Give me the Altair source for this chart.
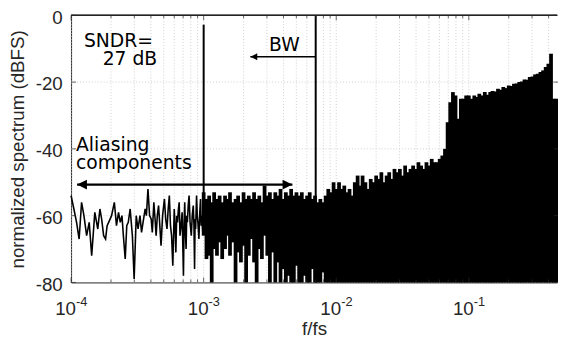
import altair as alt
import pandas as pd

# ------------------------------------------------------------------ data
# sparse low-frequency bins of the output spectrum (f in units of 1e-4 * fs)
low_f_e4 = [1.00, 1.05, 1.10, 1.15, 1.20, 1.25, 1.31, 1.37, 1.43, 1.51,
            1.59, 1.65, 1.70, 1.76, 1.82, 1.87, 1.92, 2.02, 2.12, 2.20,
            2.28, 2.35, 2.42, 2.48, 2.56, 2.63, 2.70, 2.79, 2.90, 2.99,
            3.10, 3.20, 3.31, 3.40, 3.49, 3.62, 3.70, 3.80, 3.91, 4.02,
            4.10, 4.21, 4.30, 4.38, 4.47, 4.57, 4.67, 4.77, 4.90, 5.06,
            5.17, 5.29, 5.40, 5.51, 5.62, 5.73, 5.85, 6.00, 6.08, 6.17,
            6.26, 6.35, 6.45, 6.54, 6.63, 6.72, 6.88, 7.04, 7.12, 7.20,
            7.30, 7.37, 7.45, 7.54, 7.65, 7.76, 7.90, 8.07, 8.20, 8.35,
            8.45, 8.54, 8.62, 8.70, 8.84, 8.95, 9.05, 9.21, 9.35, 9.47,
            9.58, 9.70, 9.85, 9.93]
low_db = [-54, -58, -62, -67, -56, -60, -66, -62, -72, -59,
          -64, -58, -61, -66, -67, -63, -62, -60, -56, -63,
          -59, -62, -60, -66, -73, -63, -62, -58, -66, -79,
          -60, -64, -60, -65, -62, -58, -60, -52, -60, -61,
          -65, -56, -61, -66, -60, -57, -63, -69, -60, -55,
          -61, -64, -58, -54, -63, -66, -75, -58, -63, -71,
          -60, -62, -58, -56, -66, -64, -59, -78, -62, -56,
          -66, -70, -60, -62, -57, -54, -62, -66, -60, -57,
          -63, -76, -61, -64, -54, -60, -62, -67, -59, -55,
          -63, -60, -65, -58]

# dense part of the spectrum: 50 frequency slots per decade (mantissas)
dense_mant = [1.00, 1.05, 1.10, 1.15, 1.20, 1.26, 1.32, 1.38, 1.45, 1.51,
              1.58, 1.66, 1.74, 1.82, 1.91, 2.00, 2.09, 2.19, 2.29, 2.40,
              2.51, 2.63, 2.75, 2.88, 3.02, 3.16, 3.31, 3.47, 3.63, 3.80,
              3.98, 4.17, 4.37, 4.57, 4.79, 5.01, 5.25, 5.50, 5.75, 6.03,
              6.31, 6.61, 6.92, 7.24, 7.59, 7.94, 8.32, 8.71, 9.12, 9.55]
# decade 1e-3 .. 1e-2: upper and lower edge of the dense trace
dense_top_1e3 = [-53, -55, -54, -56, -53, -55, -54, -56, -54, -55,
                 -53, -56, -55, -54, -56, -53, -55, -54, -55, -53,
                 -55, -54, -56, -51, -54, -53, -55, -53, -54, -52,
                 -55, -53, -54, -52, -54, -53, -54, -53, -55, -54,
                 -53, -55, -54, -56, -55, -56, -54, -52, -53, -50]
dense_bot_1e3 = [-66, -73, -72, -80, -70, -72, -68, -73, -70, -66,
                 -72, -68, -80, -71, -74, -69, -80, -72, -67, -74,
                 -80, -70, -73, -66, -72, -80, -71, -80, -74, -80,
                 -76, -80, -78, -80, -80, -75, -80, -80, -78, -80,
                 -80, -76, -80, -80, -80, -77, -80, -80, -80, -80]
# decade 1e-2 .. 1e-1: upper edge (trace fills down to the floor)
dense_top_1e2 = [-52, -50, -52, -51, -53, -52, -54, -50, -48, -51,
                 -48, -50, -52, -49, -50, -48, -49, -47, -50, -48,
                 -47, -49, -46, -47, -46, -48, -45, -47, -46, -45,
                 -46, -44, -45, -46, -44, -45, -43, -44, -44, -43,
                 -42, -40, -32, -26, -23, -24, -31, -25, -25, -24]
# decade 1e-1 .. 0.46: upper edge
dense_top_1e1 = [-24, -25, -24, -24.5, -23.5, -24, -23, -23.8, -23, -22.7,
                 -22.8, -22, -22.3, -21.5, -21.8, -21, -21.2, -20.5, -20.4, -20,
                 -19.8, -19.2, -19.3, -18.5, -18.3, -17.7, -17.5, -17, -16.5, -15.5,
                 -14.5, -11.5, -25, -25]
floor_db = -80

# input tone and bandwidth marker
tone_f = [1.0e-3]
tone_db = [-2.8]
tone_base_db = [-62]
bw_f = [7.0e-3]

# axes
x_major = [1e-4, 1e-3, 1e-2, 1e-1]
x_exp = ["-4", "-3", "-2", "-1"]
x_minor_mant = [2, 3, 4, 5, 6, 7, 8, 9]
y_major = [0, -20, -40, -60, -80]
y_grid = [-20, -40, -60]

# annotations
ann_text = ["SNDR=", "27 dB", "BW", "Aliasing", "components"]
ann_f = [1.25e-4, 1.73e-4, 3.11e-3, 1.09e-4, 1.09e-4]
ann_db = [-9.5, -15.0, -10.6, -40.6, -45.9]

bw_arrow_f = [7.0e-3, 2.25e-3]        # from, to (tip)
bw_arrow_db = -12.4
alias_arrow_f = [1.11e-4, 4.67e-3]    # left tip, right tip
alias_arrow_db = -50.7

# ------------------------------------------------------------------ frames
X_MIN, X_MAX = 1e-4, 0.4627
W, H = 493, 271
INK = "#262626"
FONT_AX = "Liberation Sans"
FONT_TX = "DejaVu Sans"

low_df = pd.DataFrame({"f": [v * 1e-4 for v in low_f_e4], "db": low_db})

dense_f = ([m * 1e-3 for m in dense_mant] + [m * 1e-2 for m in dense_mant]
           + [m * 1e-1 for m in dense_mant[:len(dense_top_1e1)]])
dense_top = dense_top_1e3 + dense_top_1e2 + dense_top_1e1
dense_bot = dense_bot_1e3 + [floor_db] * (len(dense_top_1e2) + len(dense_top_1e1))
dense_df = pd.DataFrame({"f": dense_f, "db": dense_top, "db2": dense_bot})

tone_df = pd.DataFrame({"f": tone_f, "db": tone_db, "db2": tone_base_db})
bw_df = pd.DataFrame({"f": bw_f})

x_minor = [m * 10.0 ** e for e in (-4, -3, -2) for m in x_minor_mant] + \
          [m * 0.1 for m in x_minor_mant if m * 0.1 < X_MAX]
xmaj_df = pd.DataFrame({"f": x_major, "base": ["10"] * len(x_major), "exp": x_exp})
xmin_df = pd.DataFrame({"f": x_minor})
xgrid_df = pd.DataFrame({"f": x_major + x_minor})
ygrid_df = pd.DataFrame({"db": y_grid})
ymaj_df = pd.DataFrame({"db": y_major})

ann_df = pd.DataFrame({"f": ann_f, "db": ann_db, "t": ann_text})
bw_shaft_df = pd.DataFrame({"f": [bw_arrow_f[0]], "f2": [bw_arrow_f[1]], "db": [bw_arrow_db]})
bw_head_df = pd.DataFrame({"f": [bw_arrow_f[1]], "db": [bw_arrow_db]})
al_shaft_df = pd.DataFrame({"f": [alias_arrow_f[0]], "f2": [alias_arrow_f[1]], "db": [alias_arrow_db]})
al_left_df = pd.DataFrame({"f": [alias_arrow_f[0]], "db": [alias_arrow_db]})
al_right_df = pd.DataFrame({"f": [alias_arrow_f[1]], "db": [alias_arrow_db]})

# ------------------------------------------------------------------ scales / axes
xs = alt.Scale(type="log", domain=[X_MIN, X_MAX], nice=False)
ys = alt.Scale(domain=[-80, 0], nice=False)

x_axis = alt.Axis(title="f/fs", labels=False, ticks=False, tickSize=0, grid=False,
                  domain=True, domainColor=INK, domainWidth=1,
                  titleFont=FONT_AX, titleFontSize=19, titleFontWeight="normal",
                  titleColor=INK, titleBaseline="alphabetic", titleY=53)
y_axis = alt.Axis(title="normalized spectrum (dBFS)", values=y_major,
                  labelExpr="datum.value == 0 ? '0' : '-' + abs(datum.value)",
                  ticks=False, tickSize=0, labelPadding=9, labelOffset=2, grid=False,
                  labelFont=FONT_AX, labelFontSize=19, labelColor=INK,
                  domain=True, domainColor=INK, domainWidth=1,
                  titleFont=FONT_AX, titleFontSize=19, titleFontWeight="normal",
                  titleColor=INK, titleBaseline="alphabetic", titleX=-48, titleY=H / 2)


def X(field="f"):
    return alt.X(f"{field}:Q", scale=xs, axis=x_axis)


def Y(field="db"):
    return alt.Y(f"{field}:Q", scale=ys, axis=y_axis)


GRID = dict(color="#cfcfcf", strokeWidth=1, strokeDash=[1, 2])
LEFT_HEAD = "M0,0L1,-0.5L1,0.5Z"
RIGHT_HEAD = "M0,0L-1,-0.5L-1,0.5Z"

layers = [
    alt.Chart(xgrid_df).mark_rule(**GRID).encode(x=X()),
    alt.Chart(ygrid_df).mark_rule(**GRID).encode(y=Y()),
    alt.Chart(low_df).mark_line(color="black", strokeWidth=1.6).encode(x=X(), y=Y()),
    alt.Chart(dense_df).mark_rule(color="black", strokeWidth=3.8).encode(x=X(), y=Y(), y2="db2:Q"),
    alt.Chart(tone_df).mark_rule(color="black", strokeWidth=2).encode(x=X(), y=Y(), y2="db2:Q"),
    alt.Chart(bw_df).mark_rule(color="black", strokeWidth=2).encode(x=X()),
    # frame top line
    alt.Chart(ymaj_df).mark_rule(color=INK, strokeWidth=1).encode(y=alt.datum(0)),
    # inside ticks
    alt.Chart(xmaj_df).mark_tick(orient="vertical", size=5, thickness=1, color=INK, yOffset=-2.5)
       .encode(x=X(), y=alt.datum(-80)),
    alt.Chart(xmaj_df).mark_tick(orient="vertical", size=5, thickness=1, color=INK, yOffset=2.5)
       .encode(x=X(), y=alt.datum(0)),
    alt.Chart(xmin_df).mark_tick(orient="vertical", size=3, thickness=1, color=INK, yOffset=-1.5)
       .encode(x=X(), y=alt.datum(-80)),
    alt.Chart(xmin_df).mark_tick(orient="vertical", size=3, thickness=1, color=INK, yOffset=1.5)
       .encode(x=X(), y=alt.datum(0)),
    alt.Chart(ymaj_df).mark_tick(orient="horizontal", size=5, thickness=1, color=INK, xOffset=2.5)
       .encode(x=alt.datum(X_MIN), y=Y()),
    alt.Chart(ymaj_df).mark_tick(orient="horizontal", size=5, thickness=1, color=INK, xOffset=-1)
       .encode(x=alt.datum(X_MAX), y=Y()),
    # x tick labels 10^k
    alt.Chart(xmaj_df).mark_text(align="right", baseline="alphabetic", dx=5, dy=33,
                                 font=FONT_AX, fontSize=19, color=INK)
       .encode(x=X(), y=alt.datum(-80), text="base:N"),
    alt.Chart(xmaj_df).mark_text(align="left", baseline="alphabetic", dx=5, dy=24,
                                 font=FONT_AX, fontSize=13, color=INK)
       .encode(x=X(), y=alt.datum(-80), text="exp:N"),
    # annotations
    alt.Chart(ann_df).mark_text(align="left", baseline="alphabetic", font=FONT_TX,
                                fontSize=19, color="black")
       .encode(x=X(), y=Y(), text="t:N"),
    alt.Chart(bw_shaft_df).mark_rule(color="black", strokeWidth=1.5).encode(x=X(), x2="f2:Q", y=Y()),
    alt.Chart(bw_head_df).mark_point(shape=LEFT_HEAD, size=196, filled=True, opacity=1,
                                     color="black", strokeWidth=0).encode(x=X(), y=Y()),
    alt.Chart(al_shaft_df).mark_rule(color="black", strokeWidth=2.2).encode(x=X(), x2="f2:Q", y=Y()),
    alt.Chart(al_left_df).mark_point(shape=LEFT_HEAD, size=400, filled=True, opacity=1,
                                     color="black", strokeWidth=0).encode(x=X(), y=Y()),
    alt.Chart(al_right_df).mark_point(shape=RIGHT_HEAD, size=400, filled=True, opacity=1,
                                      color="black", strokeWidth=0).encode(x=X(), y=Y()),
]

chart = alt.layer(*layers).properties(
    width=W, height=H,
    autosize=alt.AutoSizeParams(type="none"),
    padding={"left": 64, "top": 5, "right": 1, "bottom": 57},
).configure_view(stroke=None)

chart.save("out.html", embed_options={"renderer": "svg", "actions": False})
